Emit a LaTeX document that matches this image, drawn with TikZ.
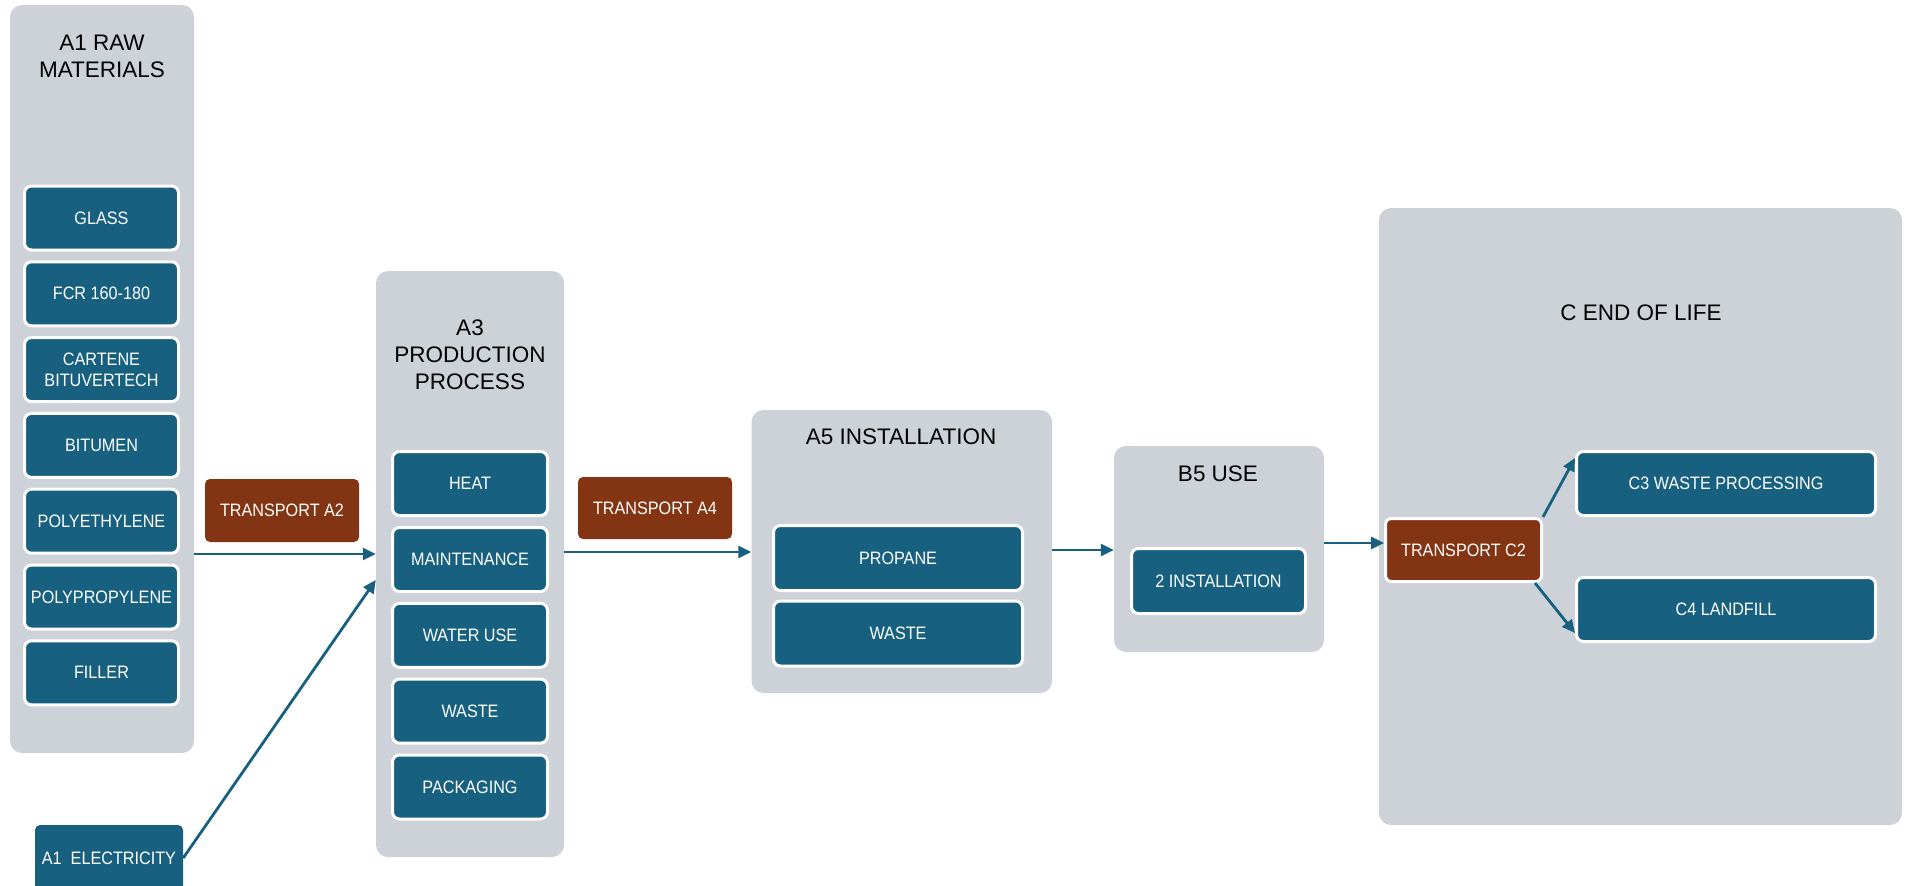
\documentclass[tikz,border=0pt]{standalone}
\usepackage{fontspec}
\setmainfont[FakeStretch=0.9]{Liberation Sans}
\newfontfamily\titlefont{Liberation Sans}
\usetikzlibrary{arrows.meta}
\definecolor{colgray}{HTML}{CDD1D8}
\definecolor{itemblue}{HTML}{176080}
\definecolor{transbrown}{HTML}{833412}
\tikzset{
  col/.style={fill=colgray, draw=none, rounded corners=12pt, inner sep=0pt},
  ttl/.style={text=black, align=center, inner sep=0pt, font=\titlefont\fontsize{22.5}{27}\selectfont},
  item/.style={fill=itemblue, draw=white, line width=3pt, rounded corners=7pt, text=white,
    align=center, inner sep=2pt, font=\fontsize{18}{21}\selectfont},
  trans/.style={fill=transbrown, draw=none, rounded corners=5pt, text=white,
    align=center, inner sep=2pt, font=\fontsize{18}{21}\selectfont},
  plainbox/.style={fill=itemblue, draw=none, rounded corners=5pt, text=white,
    align=center, inner sep=2pt, font=\fontsize{18}{21}\selectfont},
  arr/.style={draw=itemblue, line width=2.8pt, -{Triangle[length=13pt,width=12pt]}}
}
\begin{document}
\begin{tikzpicture}[x=1pt,y=-1pt]
\clip (0,0) rectangle (1907,886);
\fill[white] (0,0) rectangle (1907,886);

% A1 raw materials
\node[col, minimum width=184, minimum height=748] (a1col) at (102,379) {};
\node[ttl] (a1t) at (102,56.5) {A1 RAW\\MATERIALS};
\node[item, minimum width=154, minimum height=64] (glass) at (101.5,218) {GLASS};
\node[item, minimum width=154, minimum height=64] (fcr) at (101.5,293.8) {FCR 160-180};
\node[item, minimum width=154, minimum height=64] (cart) at (101.5,369.6) {CARTENE\\BITUVERTECH};
\node[item, minimum width=154, minimum height=64] (bit) at (101.5,445.4) {BITUMEN};
\node[item, minimum width=154, minimum height=64] (pe) at (101.5,521.2) {POLYETHYLENE};
\node[item, minimum width=154, minimum height=64] (pp) at (101.5,597) {POLYPROPYLENE};
\node[item, minimum width=154, minimum height=64] (fill) at (101.5,672.8) {FILLER};

% Electricity
\node[plainbox, minimum width=148, minimum height=66] (elec) at (109,858) {A1\ \ ELECTRICITY};

% Transport A2 / A4
\node[trans, minimum width=154, minimum height=63] (ta2) at (282,510.5) {TRANSPORT A2};
\node[trans, minimum width=154, minimum height=62] (ta4) at (655,508) {TRANSPORT A4};

% A3 production process
\node[col, minimum width=188, minimum height=586] (a3col) at (470,564) {};
\node[ttl] (a3t) at (470,355) {A3\\PRODUCTION\\PROCESS};
\node[item, minimum width=155, minimum height=64] (heat) at (470,483.5) {HEAT};
\node[item, minimum width=155, minimum height=64] (maint) at (470,559.5) {MAINTENANCE};
\node[item, minimum width=155, minimum height=64] (water) at (470,635.3) {WATER USE};
\node[item, minimum width=155, minimum height=64] (waste3) at (470,711.1) {WASTE};
\node[item, minimum width=155, minimum height=64] (pack) at (470,787) {PACKAGING};

% A5 installation
\node[col, minimum width=300.5, minimum height=283] (a5col) at (901.8,551.5) {};
\node[ttl] (a5t) at (901,437) {A5 INSTALLATION};
\node[item, minimum width=249, minimum height=65] (prop) at (898,558) {PROPANE};
\node[item, minimum width=249, minimum height=65] (waste5) at (898,633.5) {WASTE};

% B5 use
\node[col, minimum width=210, minimum height=206] (b5col) at (1219,549) {};
\node[ttl] (b5t) at (1218,474) {B5 USE};
\node[item, minimum width=174, minimum height=65] (inst) at (1218.5,581) {2 INSTALLATION};

% C end of life
\node[col, minimum width=523, minimum height=617] (ccol) at (1640.5,516.5) {};
\node[ttl] (ct) at (1641,313) {C END OF LIFE};
\node[item, fill=transbrown, rounded corners=6pt, minimum width=156, minimum height=63] (c2) at (1463.5,550) {TRANSPORT C2};
\node[item, minimum width=299, minimum height=64] (c3) at (1726,483.5) {C3 WASTE PROCESSING};
\node[item, minimum width=299, minimum height=64] (c4) at (1726,609.5) {C4 LANDFILL};

% connectors
\draw[arr] (a1col.east |- 0,554) -- (a3col.west |- 0,554);
\draw[arr] (elec.east) -- (a3col.west |- 0,580);
\draw[arr] (a3col.east |- 0,552) -- (a5col.west |- 0,552);
\draw[arr] (a5col.east |- 0,550) -- (b5col.west |- 0,550);
\draw[arr] (b5col.east |- 0,543) -- (c2.west |- 0,543);
\draw[arr] (c2.north east) -- (c3.west |- 0,458);
\draw[arr] ([xshift=-8pt]c2.south east) -- (c4.west |- 0,633);
\end{tikzpicture}
\end{document}
